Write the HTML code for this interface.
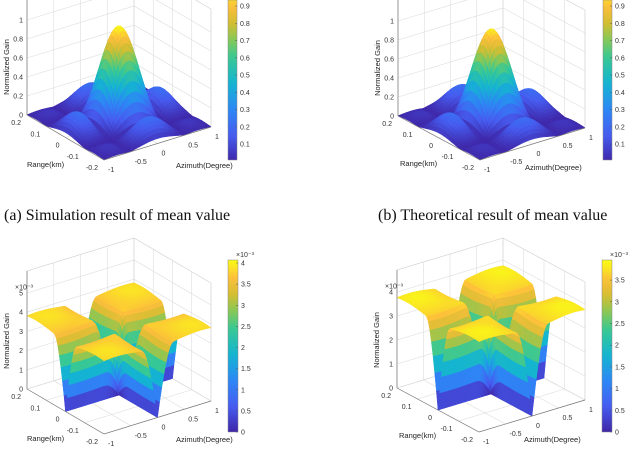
<!DOCTYPE html>
<html><head><meta charset="utf-8">
<style>
html,body{margin:0;padding:0;background:#fff;}
svg{display:block;font-family:"Liberation Sans",sans-serif;}
.cap{font-family:"Liberation Serif",serif;font-size:16px;fill:#111;}
.tk{font-size:7px;fill:#333;}
.lb{font-size:7.5px;fill:#222;}
</style></head>
<body>
<svg id="fig" width="640" height="451" viewBox="0 0 640 451" xmlns="http://www.w3.org/2000/svg">
<text class="cap" x="4" y="220">(a)  Simulation result of mean value</text>
<text class="cap" x="378" y="220">(b)  Theoretical result of mean value</text>
</svg>
<script>
// tick labels and model parameters
const azimuthTicks = [-1, -0.5, 0, 0.5, 1];
const rangeTicks = [-0.2, -0.1, 0, 0.1, 0.2];
const zTicksMean = [0, 0.2, 0.4, 0.6, 0.8, 1];
const zTicksVarC = [0, 1, 2, 3, 4, 5];
const zTicksVarD = [0, 1, 2, 3, 4];
const cbTicksMean = [0.1, 0.2, 0.3, 0.4, 0.5, 0.6, 0.7, 0.8, 0.9];
const cbTicksVarC = [0, 0.5, 1, 1.5, 2, 2.5, 3, 3.5, 4];
const cbTicksVarD = [0, 0.5, 1, 1.5, 2, 2.5, 3, 3.5];
const meanPeak = [1.0, 0.98];       // peak gain (a),(b)
const varPlateau = [3.75, 3.7];     // plateau level x1e-3 (c),(d)

const NS="http://www.w3.org/2000/svg";
const svg=document.getElementById('fig');
function mk(tag,attrs,parent){const e=document.createElementNS(NS,tag);for(const k in attrs)e.setAttribute(k,attrs[k]);(parent||svg).appendChild(e);return e;}
const stops=[[0,62,38,168],[0.15,70,92,240],[0.3,45,135,245],[0.45,20,180,210],[0.6,55,200,150],[0.7,130,200,90],[0.8,210,190,50],[0.9,253,190,60],[1,249,251,21]];
function parula(t){t=Math.max(0,Math.min(1,t));for(let i=1;i<stops.length;i++){if(t<=stops[i][0]){const a=stops[i-1],b=stops[i],f=(t-a[0])/(b[0]-a[0]);return `rgb(${Math.round(a[1]+f*(b[1]-a[1]))},${Math.round(a[2]+f*(b[2]-a[2]))},${Math.round(a[3]+f*(b[3]-a[3]))})`;}}return 'rgb(249,251,21)';}
function sinc(x){return Math.abs(x)<1e-9?1:Math.sin(Math.PI*x)/(Math.PI*x);}

function panel(P){
  const g=mk('g',{});
  
  
  const proj=(u,v,z)=>[P.f[0]+(u+1)/2*P.du[0]+(v+1)/2*P.dv[0], P.f[1]+(u+1)/2*P.du[1]+(v+1)/2*P.dv[1]-z*P.zs];
  const wallTop=P.wallTop;
  const gl={stroke:'#dcdcdc','stroke-width':0.6,fill:'none'};
  const L=proj(-1,1,0),B=proj(1,1,0),R=proj(1,-1,0);
  mk('polygon',{points:`${L} ${B} ${B[0]},${B[1]-wallTop} ${L[0]},${L[1]-wallTop}`,fill:'#fff',stroke:'#ccc','stroke-width':0.6},g);
  mk('polygon',{points:`${B} ${R} ${R[0]},${R[1]-wallTop} ${B[0]},${B[1]-wallTop}`,fill:'#fff',stroke:'#ccc','stroke-width':0.6},g);
  P.zt.forEach(z=>{const a=proj(-1,1,z/P.zdiv),b=proj(1,1,z/P.zdiv),c=proj(1,-1,z/P.zdiv);mk('polyline',Object.assign({points:`${a} ${b} ${c}`},gl),g);});
  azimuthTicks.forEach(u=>{const a=proj(u,1,0);mk('line',Object.assign({x1:a[0],y1:a[1],x2:a[0],y2:a[1]-wallTop},gl),g);const f=proj(u,-1,0);mk('line',Object.assign({x1:f[0],y1:f[1],x2:a[0],y2:a[1]},gl),g);});
  rangeTicks.forEach(r=>{const v=r/0.2;const a=proj(1,v,0);mk('line',Object.assign({x1:a[0],y1:a[1],x2:a[0],y2:a[1]-wallTop},gl),g);const f=proj(-1,v,0);mk('line',Object.assign({x1:f[0],y1:f[1],x2:a[0],y2:a[1]},gl),g);});
  const N=50,pts=[];
  for(let i=0;i<=N;i++){pts[i]=[];for(let j=0;j<=N;j++){const u=-1+2*i/N,v=-1+2*j/N;pts[i][j]=[u,v,P.fn(u,v)];}}
  const quads=[];
  for(let i=0;i<N;i++)for(let j=0;j<N;j++)quads.push([i,j]);
  quads.sort((a,b)=>(b[0]+b[1])-(a[0]+a[1]));
  const sg=mk('g',{},g);
  
  
  quads.forEach(([i,j])=>{
    const c=[pts[i][j],pts[i+1][j],pts[i+1][j+1],pts[i][j+1]];
    const zm=(c[0][2]+c[1][2]+c[2][2]+c[3][2])/4;
    const col=parula(zm/P.cmax);
    mk('polygon',{points:c.map(p=>proj(p[0],p[1],p[2]/P.zdiv).map(x=>x.toFixed(1)).join(',')).join(' '),fill:col,stroke:col,'stroke-width':0.5},sg);
  });
  const F=proj(-1,-1,0);
  mk('line',{x1:L[0],y1:L[1],x2:L[0],y2:L[1]-wallTop,stroke:'#777','stroke-width':0.7},g);
  mk('polyline',{points:`${L} ${F} ${R}`,fill:'none',stroke:'#777','stroke-width':0.7},g);
  P.zt.forEach(z=>{const p=proj(-1,1,z/P.zdiv);const t=mk('text',{x:p[0]-4,y:p[1]+2.5,'text-anchor':'end',class:'tk'},g);t.textContent=z;
    
    });
  rangeTicks.forEach(r=>{const p=proj(-1,r/0.2,0);const t=mk('text',{x:p[0]-6,y:p[1]+10,'text-anchor':'end',class:'tk'},g);t.textContent=r;
    
    });
  azimuthTicks.forEach(u=>{const p=proj(u,-1,0);const t=mk('text',{x:p[0]+4,y:p[1]+12,'text-anchor':'start',class:'tk'},g);t.textContent=u;
    
    });
  let t=mk('text',{x:L[0]+P.rl[0],y:L[1]+P.rl[1],class:'lb'},g);t.textContent='Range(km)';
  
  
  t=mk('text',{x:F[0]+P.al[0],y:F[1]+P.al[1],class:'lb'},g);t.textContent='Azimuth(Degree)';
  
  
  t=mk('text',{x:0,y:0,class:'lb','text-anchor':'middle',transform:`translate(${L[0]-18},${L[1]-48}) rotate(-90)`},g);t.textContent='Normalized Gain';
  
  
  if(P.exp){t=mk('text',{x:L[0]-12,y:L[1]-wallTop*P.zlast-4,class:'tk','font-size':6},g);t.textContent='×10⁻³';
    
    }
  const cb=P.cb;
  const defs=mk('defs',{},g);
  const lg=mk('linearGradient',{id:P.name+'grad',x1:0,y1:1,x2:0,y2:0},defs);
  const vmin=(cb.y0-cb.bot)/cb.k, vmax=(cb.y0-cb.top)/cb.k;
  for(let s=0;s<=20;s++){const v=vmin+(vmax-vmin)*s/20;mk('stop',{offset:s/20,'stop-color':parula(v/P.cmax)},lg);}
  const r=mk('rect',{x:cb.x,y:cb.top,width:cb.w,height:cb.bot-cb.top,fill:`url(#${P.name}grad)`,stroke:'#888','stroke-width':0.5},g);
  
  
  cb.ticks.forEach(v=>{const y=cb.y0-v*cb.k;mk('line',{x1:cb.x+cb.w-2,y1:y,x2:cb.x+cb.w,y2:y,stroke:'#555','stroke-width':0.5},g);
    const tt=mk('text',{x:cb.x+cb.w+3,y:y+2.5,class:'tk'},g);tt.textContent=v;
    
    });
  if(P.exp){const tt=mk('text',{x:cb.x+cb.w-2,y:cb.top-3,class:'tk','font-size':6},g);tt.textContent='×10⁻³';
    
    }
}
const meanFn=k=>(u,v)=>meanPeak[k]*Math.abs(sinc(1.9*u)*sinc(1.9*v));
const gfun=x=>{const a=Math.min(1,Math.abs(x)/0.3);return Math.sin(a*Math.PI/2);};
const varFn=k=>(u,v)=>Math.max(0,varPlateau[k]*gfun(u)*gfun(v)*(1+0.04*Math.cos(4*u)*Math.cos(4*v)));

panel({name:'panel-a',f:[104,160],du:[107,-33],dv:[-77,-45],zs:95,zdiv:1,cmax:1,zt:zTicksMean,wallTop:118,zlast:0.8,
  fn:meanFn(0),rl:[0,52],al:[72,8],cb:{x:228,w:9,top:0,bot:160,y0:161.3,k:172.5,ticks:cbTicksMean}});
panel({name:'panel-b',f:[480,160],du:[105,-32],dv:[-82,-44],zs:95,zdiv:1,cmax:1,zt:zTicksMean,wallTop:118,zlast:0.8,
  fn:meanFn(1),rl:[2,50],al:[45,10],cb:{x:603,w:9,top:0,bot:160,y0:161.3,k:172.5,ticks:cbTicksMean}});
panel({name:'panel-c',f:[104,434],du:[107,-33],dv:[-77,-45],zs:96,zdiv:5,cmax:4.05,zt:zTicksVarC,wallTop:118,zlast:0.81,exp:true,
  fn:varFn(0),rl:[0,52],al:[72,8],cb:{x:228,w:10,top:260,bot:432,y0:432,k:42.25,ticks:cbTicksVarC}});
panel({name:'panel-d',f:[479,432],du:[106,-32],dv:[-82,-44],zs:96,zdiv:4,cmax:3.9,zt:zTicksVarD,wallTop:118,zlast:0.81,exp:true,
  fn:varFn(1),rl:[2,50],al:[45,10],cb:{x:602,w:10,top:260,bot:432,y0:432,k:43.4,ticks:cbTicksVarD}});
</script>
</body></html>
